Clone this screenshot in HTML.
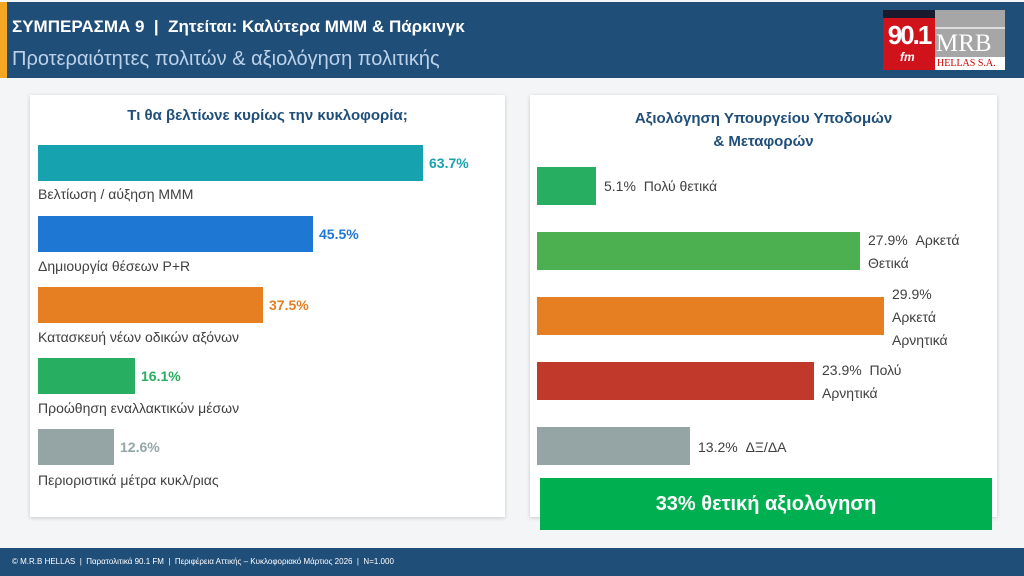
<!DOCTYPE html>
<html><head><meta charset="utf-8"><style>
*{margin:0;padding:0;box-sizing:border-box}
body{width:1024px;height:576px;background:#f3f5f7;position:relative;overflow:hidden;font-family:"Liberation Sans","DejaVu Sans",sans-serif}
.a{position:absolute}
.hdr{left:0;top:2px;width:1024px;height:76px;background:#1f4e79}
.panel{background:#fff;box-shadow:0 1px 4px rgba(0,0,0,.18)}
.bar{position:absolute}
.lab{position:absolute;font-size:14px;color:#404040;white-space:nowrap}
.val{position:absolute;font-size:14px;font-weight:bold}
.rl{position:absolute;font-size:14px;color:#404040;line-height:23px}
</style></head><body>
<div class="a hdr"></div>
<div class="a" style="left:0;top:2px;width:7px;height:76px;background:#f5a623"></div>
<div class="a" style="left:12px;top:17px;color:#fff;font-size:17px;font-weight:bold">ΣΥΜΠΕΡΑΣΜΑ 9 &nbsp;|&nbsp; Ζητείται: Καλύτερα ΜΜΜ &amp; Πάρκινγκ</div>
<div class="a" style="left:12px;top:48px;color:#bcd2ea;font-size:20px">Προτεραιότητες πολιτών &amp; αξιολόγηση πολιτικής</div>
<div class="a" style="left:883px;top:10px;width:52px;height:60px;background:#d0121b"></div>
<div class="a" style="left:883px;top:10px;width:52px;height:8px;background:#1a1a2e"></div>
<div class="a" style="left:883px;top:20px;width:52px;color:#fff;font-size:26px;font-weight:bold;letter-spacing:-2px;text-align:center">90.1</div>
<div class="a" style="left:900px;top:50px;color:#fff;font-size:12px;font-weight:bold;font-style:italic">fm</div>
<div class="a" style="left:935px;top:10px;width:70px;height:60px;background:#a6a6a6"></div>
<div class="a" style="left:935px;top:27px;width:70px;height:2px;background:#ddd"></div>
<div class="a" style="left:936px;top:30px;color:#fff;font-size:25px;font-family:'Liberation Serif',serif">MRB</div>
<div class="a" style="left:935px;top:57px;width:70px;height:13px;background:#fff"></div>
<div class="a" style="left:937px;top:58px;color:#c00;font-size:10px;font-family:'Liberation Serif',serif">HELLAS S.A.</div>

<div class="a panel" style="left:30px;top:95px;width:475px;height:422px"></div>
<div class="a" style="left:30px;top:107px;width:475px;text-align:center;font-size:15px;font-weight:bold;color:#1f4e79">Τι θα βελτίωνε κυρίως την κυκλοφορία;</div>
<div class="bar" style="left:38px;top:145px;width:385px;height:36px;background:#17a2b0"></div>
<div class="val" style="left:429px;top:155px;color:#17a2b0">63.7%</div>
<div class="lab" style="left:38px;top:186px">Βελτίωση / αύξηση ΜΜΜ</div>
<div class="bar" style="left:38px;top:216px;width:275px;height:36px;background:#1f77d4"></div>
<div class="val" style="left:319px;top:226px;color:#1f77d4">45.5%</div>
<div class="lab" style="left:38px;top:258px">Δημιουργία θέσεων P+R</div>
<div class="bar" style="left:38px;top:287px;width:225px;height:36px;background:#e67e22"></div>
<div class="val" style="left:269px;top:297px;color:#e67e22">37.5%</div>
<div class="lab" style="left:38px;top:329px">Κατασκευή νέων οδικών αξόνων</div>
<div class="bar" style="left:38px;top:358px;width:97px;height:36px;background:#27ae60"></div>
<div class="val" style="left:141px;top:368px;color:#27ae60">16.1%</div>
<div class="lab" style="left:38px;top:400px">Προώθηση εναλλακτικών μέσων</div>
<div class="bar" style="left:38px;top:429px;width:76px;height:36px;background:#95a5a6"></div>
<div class="val" style="left:120px;top:439px;color:#95a5a6">12.6%</div>
<div class="lab" style="left:38px;top:472px">Περιοριστικά μέτρα κυκλ/ριας</div>

<div class="a panel" style="left:530px;top:95px;width:467px;height:422px"></div>
<div class="a" style="left:530px;top:107px;width:467px;text-align:center;font-size:15px;font-weight:bold;color:#1f4e79;line-height:23px">Αξιολόγηση Υπουργείου Υποδομών<br>&amp; Μεταφορών</div>
<div class="bar" style="left:537px;top:167px;width:59px;height:38px;background:#27ae60"></div>
<div class="rl" style="left:604px;top:175px">5.1% &nbsp;Πολύ θετικά</div>
<div class="bar" style="left:537px;top:232px;width:323px;height:38px;background:#4cb050"></div>
<div class="rl" style="left:868px;top:229px">27.9% &nbsp;Αρκετά<br>Θετικά</div>
<div class="bar" style="left:537px;top:297px;width:347px;height:38px;background:#e67e22"></div>
<div class="rl" style="left:892px;top:283px">29.9%<br>Αρκετά<br>Αρνητικά</div>
<div class="bar" style="left:537px;top:362px;width:277px;height:38px;background:#c0392b"></div>
<div class="rl" style="left:822px;top:359px">23.9% &nbsp;Πολύ<br>Αρνητικά</div>
<div class="bar" style="left:537px;top:427px;width:153px;height:38px;background:#95a5a6"></div>
<div class="rl" style="left:698px;top:436px">13.2% &nbsp;ΔΞ/ΔΑ</div>
<div class="a" style="left:540px;top:478px;width:452px;height:52px;background:#00b050;color:#fff;font-size:20px;font-weight:bold;text-align:center;line-height:52px">33% θετική αξιολόγηση</div>

<div class="a" style="left:0;top:548px;width:1024px;height:28px;background:#1f4e79"></div>
<div class="a" style="left:12px;top:557px;color:#fff;font-size:8px">© M.R.B HELLAS &nbsp;| &nbsp;Παρατολιτικά 90.1 FM &nbsp;| &nbsp;Περιφέρεια Αττικής – Κυκλοφοριακό Μάρτιος 2026 &nbsp;| &nbsp;N=1.000</div>
</body></html>
